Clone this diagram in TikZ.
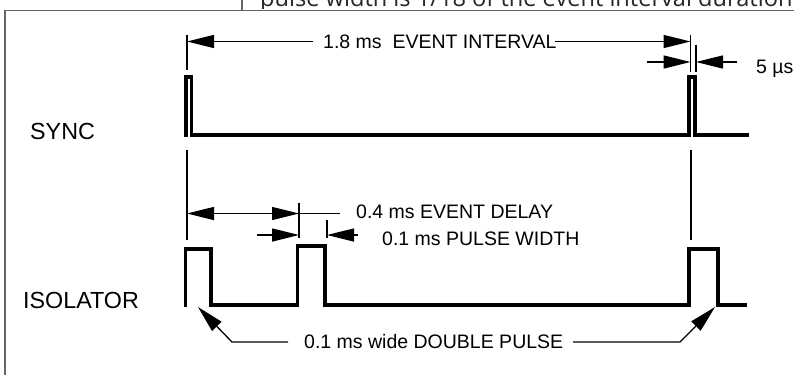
\documentclass[tikz,border=0pt]{standalone}
\usepackage{fontspec}
\setmainfont{Liberation Sans}
\newfontfamily\topfont{Open Sans}
\usetikzlibrary{arrows.meta}
\begin{document}
\begin{tikzpicture}[x=1pt,y=-1pt,
  sig/.style={line width=3.3pt, line join=miter, line cap=butt},
  thinln/.style={line width=1.3pt},
  dim/.style={thinln, -{Triangle[length=27pt,width=13pt]}},
  lbl/.style={font=\fontsize{23.3}{28}\selectfont, inner sep=0pt, anchor=base west},
  txt/.style={font=\fontsize{19.5}{24}\selectfont, inner sep=0pt, anchor=base west},
  framestyle/.style={line width=1.6pt, draw=black!60}]
\useasboundingbox (0,0) rectangle (794,375);

% frame of the surrounding page
\coordinate (fTL) at (5,10.3);
\coordinate (fTR) at (794,10.3);
\coordinate (fBL) at (5,375);
\coordinate (vT) at (242,0);
\coordinate (vB) at (242,10.3);
\draw[framestyle] (fBL) -- (fTL) -- (fTR);
\draw[framestyle] (vT) -- (vB);

\begin{scope}
  \clip (245,-10) rectangle (794,8);
  \node[font=\topfont\fontsize{23.6}{28}\selectfont, text=black!85, inner sep=0pt, anchor=base west] (note) at (260,6) {pulse width is 1/18 of the event interval duration};
\end{scope}

% labels
\node[lbl] (sync) at (30,139) {SYNC};
\node[lbl] (iso) at (23,308) {ISOLATOR};

% signals
\draw[sig] (186,137) -- (186,77) -- (191.5,77) -- (191.5,135) -- (689,135) -- (689,77) -- (695,77) -- (695,135) -- (749,135);
\draw[sig] (185.5,307) -- (185.5,249) -- (211,249) -- (211,305) -- (297.5,305) -- (297.5,246) -- (325,246) -- (325,305) -- (689,305) -- (689,249) -- (718,249) -- (718,305) -- (747,305);

% extension lines
\coordinate (tLa) at (187,35);   \coordinate (tLb) at (187,70);
\coordinate (tLc) at (187,150);  \coordinate (tLd) at (187,240);
\coordinate (tRa) at (690.5,35); \coordinate (tRb) at (690.5,72);
\coordinate (tRc) at (696,45);   \coordinate (tRd) at (696,72);
\coordinate (tRe) at (691,150);  \coordinate (tRf) at (691,240);
\coordinate (tMa) at (299,203);  \coordinate (tMb) at (299,238);
\coordinate (tNa) at (327,220);  \coordinate (tNb) at (327,238);
\draw[thinln] (tLa) -- (tLb);
\draw[thinln] (tLc) -- (tLd);
\draw[thinln] (tRa) -- (tRb);
\draw[thinln] (tRc) -- (tRd);
\draw[thinln] (tRe) -- (tRf);
\draw[thinln] (tMa) -- (tMb);
\draw[thinln] (tNa) -- (tNb);

% texts
\node[txt] (interval) at (323,48.3) {1.8 ms\ \ EVENT INTERVAL};
\node[txt] (five) at (756,73) {5 µs};
\node[txt] (delay) at (356,218.5) {0.4 ms EVENT DELAY};
\node[txt] (width) at (382,245.5) {0.1 ms PULSE WIDTH};
\node[txt] (double) at (304,348.5) {0.1 ms wide DOUBLE PULSE};

% dimension arrows: event interval
\coordinate (iA) at (187,41.5);  \coordinate (iB) at (313,41.5);
\coordinate (iC) at (555,41.5);  \coordinate (iD) at (690.5,41.5);
\draw[dim] (iB) -- (iA);
\draw[dim] (iC) -- (iD);
% 5 us
\coordinate (fA) at (647,62);  \coordinate (fB) at (690.5,62);
\coordinate (fC) at (737,62);  \coordinate (fD) at (696,62);
\draw[dim] (fA) -- (fB);
\draw[dim] (fC) -- (fD);
% event delay
\coordinate (dA) at (187,213.5); \coordinate (dM) at (243,213.5);
\coordinate (dB) at (299,213.5); \coordinate (dC) at (340,213.5);
\draw[dim] (dM) -- (dA);
\draw[dim] (dM) -- (dB);
\draw[thinln] (dB) -- (dC);
% pulse width
\coordinate (pA) at (257,235); \coordinate (pB) at (299,235);
\coordinate (pC) at (358,235); \coordinate (pD) at (327,235);
\draw[dim] (pA) -- (pB);
\draw[dim] (pC) -- (pD);
% double pulse
\coordinate (bA) at (288,342); \coordinate (bK) at (232,342); \coordinate (bT) at (198,307);
\coordinate (bC) at (573,342); \coordinate (bL) at (680,342); \coordinate (bU) at (715,307);
\draw[dim] (bA) -- (bK) -- (bT);
\draw[dim] (bC) -- (bL) -- (bU);
\end{tikzpicture}
\end{document}
